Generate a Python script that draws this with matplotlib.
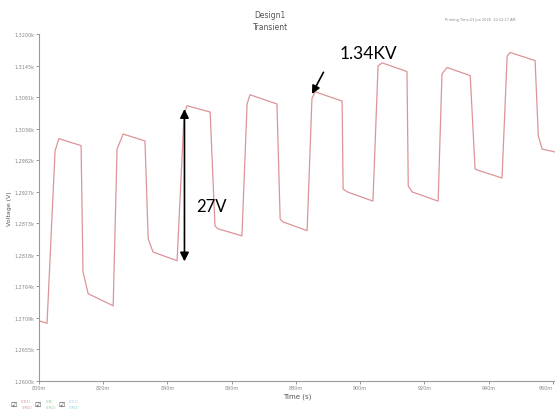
import numpy as np
import matplotlib.pyplot as plt
from matplotlib.ticker import FuncFormatter

# transient waveform (time in ms, voltage in V)
time_ms = [800.0, 802.5, 805.0, 806.2, 813.1, 813.7, 815.3, 823.1,
           824.3, 826.2, 833.0, 834.0, 835.5, 843.0,
           845.2, 846.1, 853.3, 854.8, 855.8, 863.2,
           864.8, 865.7, 874.1, 875.1, 876.0, 883.5,
           885.0, 886.0, 894.4, 894.7, 896.0, 904.0,
           905.6, 906.9, 914.6, 915.0, 916.2, 924.3,
           925.5, 927.1, 934.3, 935.8, 936.4, 944.2,
           945.8, 946.7, 954.5, 955.5, 956.7, 960.7]
volts = [1270.4, 1270.0, 1299.8, 1301.9, 1300.7, 1278.9, 1275.1, 1273.0,
         1300.1, 1302.7, 1301.5, 1284.6, 1282.3, 1280.8,
         1306.2, 1307.6, 1306.5, 1286.8, 1286.3, 1285.1,
         1307.9, 1309.5, 1307.9, 1288.0, 1287.5, 1286.0,
         1308.8, 1310.0, 1308.4, 1293.2, 1292.7, 1291.1,
         1314.5, 1315.0, 1313.5, 1293.7, 1292.7, 1291.1,
         1313.1, 1314.2, 1312.8, 1296.7, 1296.5, 1295.1,
         1316.2, 1316.8, 1315.4, 1302.4, 1300.1, 1299.6]

x_ticks = [800, 820, 840, 860, 880, 900, 920, 940, 960]
y_ticks = np.linspace(1260, 1320, 12)

legend_names = ['V(D1)', 'V(B)', 'V(C1)']
legend_colors = ['#d98a8a', '#8fcf8f', '#8fd0e0']

fig = plt.figure(figsize=(5.55, 4.14), dpi=100)
ax = fig.add_axes([0.0703, 0.0773, 0.9297, 0.8382])

ax.plot(time_ms, volts, color='#dc9498', lw=0.9)

ax.set_xlim(800, 960.7)
ax.set_ylim(1260, 1320)
ax.set_xticks(x_ticks)
ax.set_xticklabels(['%dm' % t for t in x_ticks])
ax.get_xticklabels()[-1].set_horizontalalignment('right')
ax.set_yticks(y_ticks)
ax.yaxis.set_major_formatter(FuncFormatter(lambda v, p: '%.4fk' % (v / 1000)))
ax.tick_params(labelsize=3.5, colors='#888888', length=2, width=0.6, pad=1)
for s in ['top', 'right']:
    ax.spines[s].set_visible(False)
for s in ['left', 'bottom']:
    ax.spines[s].set_color('#999999')
    ax.spines[s].set_linewidth(0.8)

ax.set_xlabel('Time (s)', fontsize=5, color='#555555', labelpad=2)
ax.set_ylabel('Voltage (V)', fontsize=4.5, color='#555555', labelpad=2)

# titles
fig.text(0.487, 0.963, 'Design1', ha='center', va='center', fontsize=5.5, color='#555555')
fig.text(0.487, 0.933, 'Transient', ha='center', va='center', fontsize=5.5, color='#555555')
fig.text(0.865, 0.951, 'Printing Time:23 Jun 2020  10:12:17 AM', ha='center', va='center',
         fontsize=2.5, color='#888888')

# annotations
ax.annotate('', xy=(845.3, 1307.5), xytext=(845.3, 1280.2),
            arrowprops=dict(arrowstyle='<|-|>', color='black', lw=1.2, mutation_scale=13))
ax.text(848.9, 1290.3, '27V', fontsize=12, family='Lato', va='center', ha='left')
ax.annotate('', xy=(884.6, 1309.2), xytext=(889.0, 1313.8),
            arrowprops=dict(arrowstyle='-|>', color='black', lw=1.2, mutation_scale=12))
ax.text(902.5, 1316.7, '1.34KV', fontsize=12.5, family='Lato', va='center', ha='center',
        clip_on=False)

# little legend strip at the bottom
for i, (name, c) in enumerate(zip(legend_names, legend_colors)):
    x0 = 0.025 + i * 0.043
    fig.text(x0, 0.022, '\u2611', fontsize=5, color='#444444', va='center', ha='center')
    fig.text(x0 + 0.022, 0.030, name, fontsize=2.5, color=c, va='center', ha='center')
    fig.text(x0 + 0.022, 0.015, 'Y(MO)', fontsize=2.5, color=c, va='center', ha='center')

fig.savefig('out.png', dpi=100)
